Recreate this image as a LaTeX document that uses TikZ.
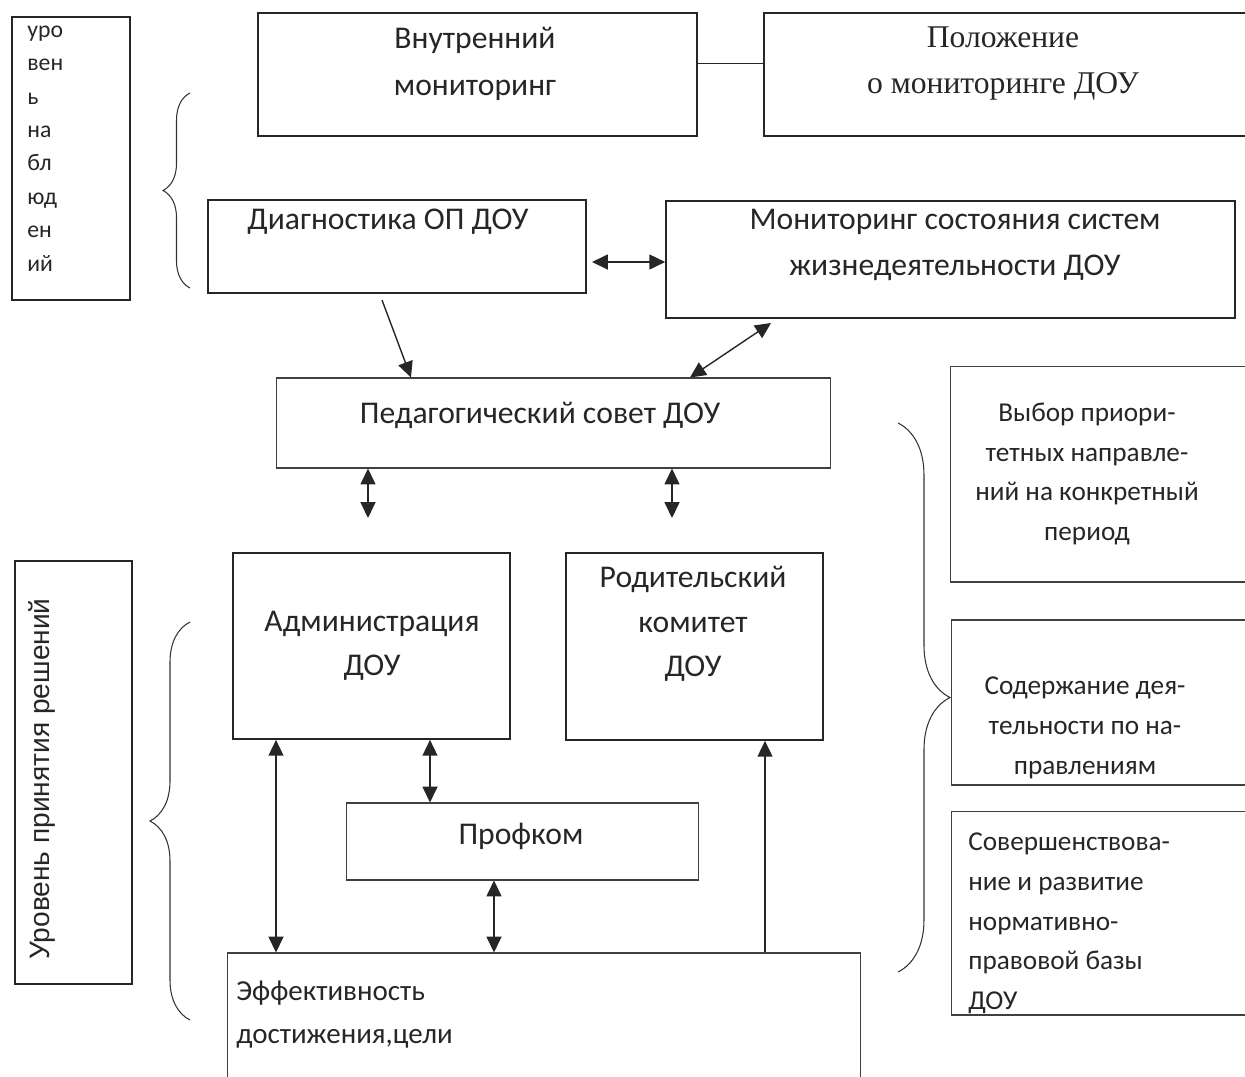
\documentclass[tikz,border=0pt]{standalone}
\usepackage{fontspec}
\setmainfont{Carlito}
\newfontfamily\timesru{Liberation Serif}
\newfontfamily\arialru{Liberation Sans}
\usetikzlibrary{arrows.meta,decorations.pathreplacing}

\tikzset{
	box/.style={draw=black!85, line width=1pt, inner sep=0pt},
	thinbox/.style={draw=black!75, line width=0.6pt, inner sep=0pt},
	lbl/.style={inner sep=0pt, align=center, text=black!85, font=\fontsize{18}{25}\selectfont},
	sidelbl/.style={inner sep=0pt, align=center, text=black!85, font=\fontsize{15.5}{22.6}\selectfont},
	dbl/.style={{Triangle[length=9pt,width=8.5pt]}-{Triangle[length=9pt,width=8.5pt]}, line width=0.8pt, draw=black!85},
	sgl/.style={-{Triangle[length=9pt,width=8.5pt]}, line width=0.8pt, draw=black!85},
	curly/.style={decorate, decoration={brace, amplitude=#1}, line width=0.6pt, draw=black!80},
}

\begin{document}
\begin{tikzpicture}[x=0.02cm, y=-0.02cm]
	%%%%% START %%%%%
	\useasboundingbox (0,0) rectangle (1245,1076);
	
	% top row
	\node[box, minimum width=2.36cm, minimum height=5.66cm] (obs) at (71,158.5) {};
	\node[inner sep=0pt, align=left, text=black!85, font=\fontsize{13.5}{19}\selectfont, anchor=west] (obs-t) at (27,148.5)
		{уро\\вен\\ь\\на\\бл\\юд\\ен\\ий};
	
	\node[box, minimum width=8.78cm, minimum height=2.46cm] (vnutr) at (477.5,74.5) {};
	\node[lbl, font=\fontsize{18}{26.6}\selectfont] (vnutr-t) at (475,63.5) {Внутренний\\мониторинг};
	
	\node[box, minimum width=9.72cm, minimum height=2.46cm] (polozh) at (1007,74.5) {};
	\node[lbl, font=\timesru\fontsize{18}{26.6}\selectfont] (polozh-t) at (1003,63.5) {Положение\\о мониторинге ДОУ};
	
	\draw[line width=1pt, black!85] (vnutr.east |- polozh-t) -- (polozh.west |- polozh-t);
	
	% observation level
	\node[box, minimum width=7.56cm, minimum height=1.86cm] (diag) at (397,246.5) {};
	\node[lbl] (diag-t) at (388,222) {Диагностика ОП ДОУ};
	
	\node[box, minimum width=11.38cm, minimum height=2.34cm] (monit) at (950.5,259.5) {};
	\node[lbl, font=\fontsize{18}{26}\selectfont] (monit-t) at (955,245) {Мониторинг состояния систем\\жизнедеятельности ДОУ};
	
	\coordinate (d2) at (592,262);
	\draw[dbl] (d2) -- (monit.west |- d2);
	
	% council
	\node[thinbox, minimum width=11.1cm, minimum height=1.8cm] (ped) at (553.5,423) {};
	\node[lbl] (ped-t) at (540,415) {Педагогический совет ДОУ};
	
	\coordinate (d1) at (382,300);
	\draw[sgl] (d1) -- (ped.north -| 411,0);
	\coordinate (m1) at (771,323);
	\draw[dbl] (ped.north -| 690,0) -- (m1);
	
	\coordinate (p1) at (368,518);
	\coordinate (p2) at (672,518);
	\draw[dbl] (ped.south -| p1) -- (p1);
	\draw[dbl] (ped.south -| p2) -- (p2);
	
	% decision level
	\node[box, minimum width=2.34cm, minimum height=8.46cm] (decis) at (73.5,772.5) {};
	\node[inner sep=0pt, rotate=90, text=black!85, font=\arialru\fontsize{16}{19}\selectfont] (decis-t) at (42,779) {Уровень принятия решений};
	
	\node[box, minimum width=5.54cm, minimum height=3.72cm] (admin) at (371.5,646) {};
	\node[lbl] (admin-t) at (372,646) {Администрация\\ДОУ};
	
	\node[box, minimum width=5.14cm, minimum height=3.74cm] (rodit) at (694.5,646.5) {};
	\node[lbl, font=\fontsize{18}{25.2}\selectfont] (rodit-t) at (693,624) {Родительский\\комитет\\ДОУ};
	
	\node[thinbox, minimum width=7.06cm, minimum height=1.54cm] (prof) at (522.5,841.5) {};
	\node[lbl] (prof-t) at (521,836) {Профком};
	
	\node[thinbox, minimum width=12.68cm, minimum height=2.64cm] (eff) at (544,1019) {};
	\node[lbl, align=left, anchor=west, font=\fontsize{16.5}{24.4}\selectfont] (eff-t) at (236,1014.5) {Эффективность\\достижения,цели};
	
	\draw[dbl] (admin.south -| 276,0) -- (eff.north -| 276,0);
	\draw[dbl] (admin.south -| 430,0) -- (prof.north -| 430,0);
	\draw[dbl] (prof.south -| 494,0) -- (eff.north -| 494,0);
	\draw[sgl] (eff.north -| 765,0) -- (rodit.south -| 765,0);
	
	% right column
	\node[thinbox, minimum width=6.0cm, minimum height=4.32cm] (vybor) at (1100,474) {};
	\node[sidelbl] (vybor-t) at (1087,474) {Выбор приори-\\тетных направле-\\ний на конкретный\\период};
	
	\node[thinbox, minimum width=5.98cm, minimum height=3.3cm] (soder) at (1100.5,702.5) {};
	\node[sidelbl] (soder-t) at (1085,728) {Содержание дея-\\тельности по на-\\правлениям};
	
	\node[thinbox, minimum width=5.98cm, minimum height=4.08cm] (sover) at (1100.5,913) {};
	\node[sidelbl, align=left, anchor=west] (sover-t) at (968,923.5) {Совершенствова-\\ние и развитие\\нормативно-\\правовой базы\\ДОУ};
	
	% braces
	\draw[curly=0.54cm] (190,288) -- (190,93);
	\draw[curly=0.8cm] (190,1020) -- (190,622);
	\draw[curly=1.04cm] (898,423) -- (898,972);
	
	%%%%% END %%%%%
\end{tikzpicture}
\end{document}
